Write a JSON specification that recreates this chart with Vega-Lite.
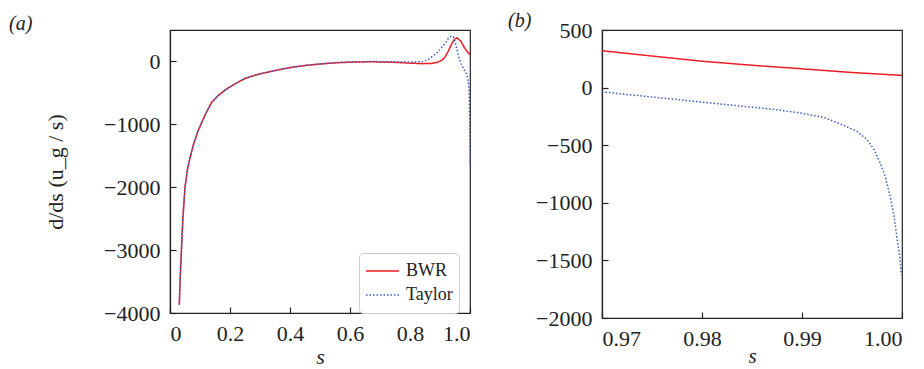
{
  "$schema": "https://vega.github.io/schema/vega-lite/v6.json",
  "padding": {"left": 8, "top": 10, "right": 5, "bottom": 0},
  "spacing": 33,
  "datasets": {
    "curves": [
      {"s": 0.031, "v": -3870, "series": "BWR"},
      {"s": 0.034, "v": -3450, "series": "BWR"},
      {"s": 0.038, "v": -3000, "series": "BWR"},
      {"s": 0.043, "v": -2500, "series": "BWR"},
      {"s": 0.05, "v": -2000, "series": "BWR"},
      {"s": 0.058, "v": -1720, "series": "BWR"},
      {"s": 0.067, "v": -1530, "series": "BWR"},
      {"s": 0.078, "v": -1320, "series": "BWR"},
      {"s": 0.09, "v": -1150, "series": "BWR"},
      {"s": 0.103, "v": -1000, "series": "BWR"},
      {"s": 0.12, "v": -820, "series": "BWR"},
      {"s": 0.139, "v": -650, "series": "BWR"},
      {"s": 0.16, "v": -545, "series": "BWR"},
      {"s": 0.185, "v": -450, "series": "BWR"},
      {"s": 0.214, "v": -365, "series": "BWR"},
      {"s": 0.25, "v": -270, "series": "BWR"},
      {"s": 0.29, "v": -210, "series": "BWR"},
      {"s": 0.33, "v": -165, "series": "BWR"},
      {"s": 0.37, "v": -125, "series": "BWR"},
      {"s": 0.41, "v": -90, "series": "BWR"},
      {"s": 0.46, "v": -60, "series": "BWR"},
      {"s": 0.51, "v": -37, "series": "BWR"},
      {"s": 0.56, "v": -20, "series": "BWR"},
      {"s": 0.62, "v": -8, "series": "BWR"},
      {"s": 0.68, "v": -6, "series": "BWR"},
      {"s": 0.74, "v": -12, "series": "BWR"},
      {"s": 0.8, "v": -27, "series": "BWR"},
      {"s": 0.84, "v": -35, "series": "BWR"},
      {"s": 0.87, "v": -33, "series": "BWR"},
      {"s": 0.89, "v": -15, "series": "BWR"},
      {"s": 0.905, "v": 15, "series": "BWR"},
      {"s": 0.915, "v": 60, "series": "BWR"},
      {"s": 0.926, "v": 148, "series": "BWR"},
      {"s": 0.935, "v": 240, "series": "BWR"},
      {"s": 0.942, "v": 307, "series": "BWR"},
      {"s": 0.95, "v": 360, "series": "BWR"},
      {"s": 0.957, "v": 376, "series": "BWR"},
      {"s": 0.963, "v": 350, "series": "BWR"},
      {"s": 0.97, "v": 320, "series": "BWR"},
      {"s": 0.975, "v": 274, "series": "BWR"},
      {"s": 0.98, "v": 229, "series": "BWR"},
      {"s": 0.985, "v": 194, "series": "BWR"},
      {"s": 0.99, "v": 163, "series": "BWR"},
      {"s": 0.995, "v": 131, "series": "BWR"},
      {"s": 1.0, "v": 106, "series": "BWR"},
      {"s": 0.031, "v": -3870, "series": "Taylor"},
      {"s": 0.034, "v": -3450, "series": "Taylor"},
      {"s": 0.038, "v": -3000, "series": "Taylor"},
      {"s": 0.043, "v": -2500, "series": "Taylor"},
      {"s": 0.05, "v": -2000, "series": "Taylor"},
      {"s": 0.058, "v": -1720, "series": "Taylor"},
      {"s": 0.067, "v": -1530, "series": "Taylor"},
      {"s": 0.078, "v": -1320, "series": "Taylor"},
      {"s": 0.09, "v": -1150, "series": "Taylor"},
      {"s": 0.103, "v": -1000, "series": "Taylor"},
      {"s": 0.12, "v": -820, "series": "Taylor"},
      {"s": 0.139, "v": -650, "series": "Taylor"},
      {"s": 0.16, "v": -545, "series": "Taylor"},
      {"s": 0.185, "v": -450, "series": "Taylor"},
      {"s": 0.214, "v": -365, "series": "Taylor"},
      {"s": 0.25, "v": -270, "series": "Taylor"},
      {"s": 0.29, "v": -210, "series": "Taylor"},
      {"s": 0.33, "v": -165, "series": "Taylor"},
      {"s": 0.37, "v": -125, "series": "Taylor"},
      {"s": 0.41, "v": -90, "series": "Taylor"},
      {"s": 0.46, "v": -58, "series": "Taylor"},
      {"s": 0.51, "v": -34, "series": "Taylor"},
      {"s": 0.56, "v": -16, "series": "Taylor"},
      {"s": 0.62, "v": -4, "series": "Taylor"},
      {"s": 0.68, "v": -2, "series": "Taylor"},
      {"s": 0.74, "v": -5, "series": "Taylor"},
      {"s": 0.8, "v": -10, "series": "Taylor"},
      {"s": 0.84, "v": -5, "series": "Taylor"},
      {"s": 0.86, "v": 30, "series": "Taylor"},
      {"s": 0.88, "v": 100, "series": "Taylor"},
      {"s": 0.895, "v": 160, "series": "Taylor"},
      {"s": 0.91, "v": 250, "series": "Taylor"},
      {"s": 0.92, "v": 307, "series": "Taylor"},
      {"s": 0.93, "v": 385, "series": "Taylor"},
      {"s": 0.937, "v": 400, "series": "Taylor"},
      {"s": 0.944, "v": 395, "series": "Taylor"},
      {"s": 0.95, "v": 320, "series": "Taylor"},
      {"s": 0.956, "v": 200, "series": "Taylor"},
      {"s": 0.962, "v": 80, "series": "Taylor"},
      {"s": 0.967, "v": 0, "series": "Taylor"},
      {"s": 0.97, "v": -37, "series": "Taylor"},
      {"s": 0.9722, "v": -57, "series": "Taylor"},
      {"s": 0.9755, "v": -86, "series": "Taylor"},
      {"s": 0.98, "v": -126, "series": "Taylor"},
      {"s": 0.9838, "v": -160, "series": "Taylor"},
      {"s": 0.9872, "v": -189, "series": "Taylor"},
      {"s": 0.99, "v": -223, "series": "Taylor"},
      {"s": 0.9922, "v": -260, "series": "Taylor"},
      {"s": 0.9938, "v": -314, "series": "Taylor"},
      {"s": 0.9955, "v": -380, "series": "Taylor"},
      {"s": 0.9965, "v": -451, "series": "Taylor"},
      {"s": 0.9972, "v": -537, "series": "Taylor"},
      {"s": 0.9978, "v": -651, "series": "Taylor"},
      {"s": 0.9983, "v": -766, "series": "Taylor"},
      {"s": 0.9988, "v": -937, "series": "Taylor"},
      {"s": 0.9992, "v": -1109, "series": "Taylor"},
      {"s": 0.9995, "v": -1309, "series": "Taylor"},
      {"s": 0.9998, "v": -1480, "series": "Taylor"},
      {"s": 0.9999, "v": -1594, "series": "Taylor"},
      {"s": 1.0, "v": -1630, "series": "Taylor"}
    ]
  },
  "hconcat": [
    {
      "width": 300,
      "height": 283,
      "title": {"text": "(a)", "anchor": "start", "frame": "group", "dx": -161, "offset": -24, "baseline": "bottom", "fontSize": 20, "fontStyle": "italic", "fontWeight": "normal", "font": "Liberation Serif", "color": "#222"},
      "data": {"name": "curves"},
      "mark": {"type": "line", "strokeWidth": 1.5},
      "encoding": {
        "x": {"field": "s", "type": "quantitative", "scale": {"domain": [0, 1], "nice": false, "zero": false},
              "axis": {"values": [0, 0.2, 0.4, 0.6, 0.8, 1.0], "labelExpr": "datum.value == 0 ? '0' : format(datum.value, '.1f')", "title": "s", "titleFontStyle": "italic", "titlePadding": 2}},
        "y": {"field": "v", "type": "quantitative", "scale": {"domain": [-4000, 500], "nice": false, "zero": false},
              "axis": {"values": [-4000, -3000, -2000, -1000, 0], "format": "d", "title": "d/ds (u_g / s)", "titlePadding": 36}},
        "color": {"field": "series", "type": "nominal", "scale": {"domain": ["BWR", "Taylor"], "range": ["#ee1c25", "#3a5cc0"]},
                  "legend": {"title": null, "orient": "none", "legendX": 189, "legendY": 223, "symbolType": "stroke", "symbolSize": 1089, "clipHeight": 24, "symbolStrokeWidth": 1.5, "labelFontSize": 18, "labelFont": "Liberation Serif", "labelColor": "#222", "fillColor": "white", "strokeColor": "#ccc", "padding": 6, "cornerRadius": 4, "rowPadding": 0, "labelOffset": 6}},
        "strokeDash": {"field": "series", "type": "nominal", "scale": {"domain": ["BWR", "Taylor"], "range": [[1, 0], [1.5, 2]]}, "legend": null}
      }
    },
    {
      "width": 300,
      "height": 288,
      "title": {"text": "(b)", "anchor": "start", "frame": "group", "dx": -94, "offset": -32, "baseline": "bottom", "fontSize": 20, "fontStyle": "italic", "fontWeight": "normal", "font": "Liberation Serif", "color": "#222"},
      "data": {"name": "curves"},
      "transform": [{"filter": "datum.s >= 0.97"}],
      "mark": {"type": "line", "strokeWidth": 1.5},
      "encoding": {
        "x": {"field": "s", "type": "quantitative", "scale": {"domain": [0.97, 1.0], "nice": false, "zero": false},
              "axis": {"values": [0.97, 0.98, 0.99, 1.0], "format": ".2f", "title": "s", "titleFontStyle": "italic", "titlePadding": -4, "titleFontSize": 21}},
        "y": {"field": "v", "type": "quantitative", "scale": {"domain": [-2000, 500], "nice": false, "zero": false},
              "axis": {"values": [-2000, -1500, -1000, -500, 0, 500], "format": "d", "title": null}},
        "color": {"field": "series", "type": "nominal", "scale": {"domain": ["BWR", "Taylor"], "range": ["#ee1c25", "#3a5cc0"]}, "legend": null},
        "strokeDash": {"field": "series", "type": "nominal", "scale": {"domain": ["BWR", "Taylor"], "range": [[1, 0], [1.5, 2]]}, "legend": null}
      }
    }
  ],
  "resolve": {"scale": {"color": "independent", "strokeDash": "independent"}},
  "config": {
    "font": "Liberation Serif",
    "view": {"stroke": "#222", "strokeWidth": 1.2},
    "axis": {
      "grid": false,
      "domainColor": "#222",
      "domainWidth": 1.2,
      "tickColor": "#222",
      "tickWidth": 1.2,
      "tickSize": -6,
      "labelPadding": 16,
      "labelFont": "Liberation Serif",
      "labelFontSize": 22,
      "labelColor": "#222",
      "titleFont": "Liberation Serif",
      "titleFontSize": 22,
      "titleFontWeight": "normal",
      "titleColor": "#222"
    }
  }
}
